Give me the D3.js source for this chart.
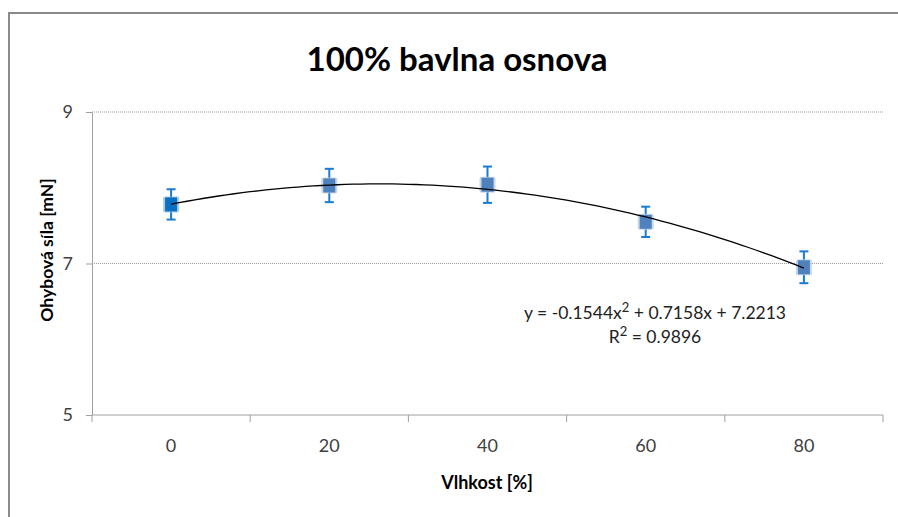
<!DOCTYPE html>
<html>
<head>
<meta charset="utf-8">
<script src="https://cdn.jsdelivr.net/npm/d3@7"></script>
<style>
  html, body { margin: 0; padding: 0; background: #fff; }
  svg { display: block; }
  text { font-family: Lato, "Open Sans", sans-serif; }
</style>
</head>
<body>
<svg id="chart" width="898" height="517"></svg>
<script>
// Humidity levels (category axis) and measured bending force
const categories = ["0", "20", "40", "60", "80"];
const forceMean = [7.78, 8.03, 8.04, 7.55, 6.95];
const forceErr = [0.20, 0.22, 0.24, 0.20, 0.21];
const yTicks = [5, 7, 9];

// Polynomial trendline (order 2), x = category index 1..5
const trendCoef = [-0.1544, 0.7158, 7.2213];
const rSquared = 0.9896;

const titleText = "100% bavlna osnova";
const xTitle = "Vlhkost [%]";
const yTitle = "Ohybová síla [mN]";

const svg = d3.select("#chart");
const plot = { left: 92, right: 883, top: 112, bottom: 415 };

const x = d3.scaleBand().domain(categories).range([plot.left, plot.right]).padding(0);
const y = d3.scaleLinear().domain([5, 9]).range([plot.bottom, plot.top]);
const xIdx = d3.scaleLinear()
  .domain([1, categories.length])
  .range([x(categories[0]) + x.bandwidth() / 2, x(categories[categories.length - 1]) + x.bandwidth() / 2]);

// Outer chart frame
svg.append("path")
  .attr("d", "M9,517 L9,13 L898,13")
  .attr("fill", "none").attr("stroke", "#8a8a8a").attr("stroke-width", 2);

// Title
svg.append("text")
  .attr("x", 457).attr("y", 71)
  .attr("text-anchor", "middle")
  .attr("font-size", 33).attr("font-weight", 700).attr("fill", "#000")
  .text(titleText);

// Horizontal gridlines (dotted)
svg.append("g").selectAll("line")
  .data(yTicks.filter(d => d !== 5))
  .join("line")
  .attr("x1", plot.left).attr("x2", plot.right)
  .attr("y1", d => y(d)).attr("y2", d => y(d))
  .attr("stroke", "#9a9a9a").attr("stroke-width", 1)
  .attr("stroke-dasharray", "1,1");

// Y axis
const yAxis = svg.append("g")
  .attr("transform", `translate(${plot.left},0)`)
  .call(d3.axisLeft(y).tickValues(yTicks).tickFormat(d3.format("d"))
    .tickSize(6).tickSizeOuter(0).tickPadding(13));
yAxis.select(".domain").attr("stroke", "#a0a0a0");
yAxis.selectAll(".tick line").attr("stroke", "#a0a0a0");
yAxis.selectAll(".tick text")
  .attr("font-family", "Lato, sans-serif").attr("font-size", 18).attr("fill", "#404040");

// X axis: ticks sit on the category boundaries
const xAxisG = svg.append("g").attr("transform", `translate(0,${plot.bottom})`);
xAxisG.append("line")
  .attr("x1", plot.left).attr("x2", plot.right)
  .attr("stroke", "#a0a0a0").attr("stroke-width", 1);
const bounds = categories.map(c => x(c)).concat([x(categories[categories.length - 1]) + x.bandwidth()]);
xAxisG.selectAll("line.tk").data(bounds).join("line")
  .attr("class", "tk")
  .attr("x1", d => d).attr("x2", d => d)
  .attr("y1", 0).attr("y2", 7)
  .attr("stroke", "#a0a0a0");
xAxisG.selectAll("text").data(categories).join("text")
  .attr("x", d => x(d) + x.bandwidth() / 2)
  .attr("y", 37)
  .attr("text-anchor", "middle")
  .attr("font-size", 18).attr("fill", "#404040")
  .text(d => d);

// Axis titles
svg.append("text")
  .attr("x", 487).attr("y", 489)
  .attr("text-anchor", "middle")
  .attr("font-size", 18).attr("font-weight", 700).attr("fill", "#000")
  .text(xTitle);
svg.append("text")
  .attr("transform", `translate(53,250) rotate(-90)`)
  .attr("text-anchor", "middle")
  .attr("font-size", 17.5).attr("font-weight", 700).attr("fill", "#000")
  .text(yTitle);

// Error bars
const eb = svg.append("g").attr("stroke", "#1a7cd0").attr("stroke-width", 2);
forceMean.forEach((v, i) => {
  const cx = x(categories[i]) + x.bandwidth() / 2;
  const yt = y(v + forceErr[i]), yb = y(v - forceErr[i]);
  eb.append("line").attr("x1", cx).attr("x2", cx).attr("y1", yt).attr("y2", yb);
  eb.append("line").attr("x1", cx - 4.5).attr("x2", cx + 4.5).attr("y1", yt).attr("y2", yt);
  eb.append("line").attr("x1", cx - 4.5).attr("x2", cx + 4.5).attr("y1", yb).attr("y2", yb);
});

// Markers (soft halo + square)
const mk = svg.append("g");
forceMean.forEach((v, i) => {
  const cx = x(categories[i]) + x.bandwidth() / 2;
  const cy = y(v);
  const fill = i === 0 ? "#0b6fc2" : "#4f81bd";
  mk.append("rect")
    .attr("x", cx - 8).attr("y", cy - 8).attr("width", 16).attr("height", 16)
    .attr("rx", 2).attr("fill", i === 0 ? "#8fbfe8" : "#b9cde6").attr("opacity", 0.8);
  mk.append("rect")
    .attr("x", cx - 6).attr("y", cy - 7).attr("width", 12).attr("height", 14)
    .attr("fill", fill);
});

// Trendline
const trendPts = d3.range(1, categories.length + 0.001, 0.05).map(t => [
  xIdx(t), y(trendCoef[0] * t * t + trendCoef[1] * t + trendCoef[2])
]);
svg.append("path")
  .attr("d", d3.line()(trendPts))
  .attr("fill", "none").attr("stroke", "#000").attr("stroke-width", 1.3);

// Trendline equation and coefficient of determination
const eq = svg.append("g").attr("font-size", 17.5).attr("fill", "#222").attr("text-anchor", "middle");
const l1 = eq.append("text").attr("x", 655).attr("y", 319);
l1.append("tspan").text(`y = ${trendCoef[0]}x`);
l1.append("tspan").attr("dy", -7).attr("font-size", 13).text("2");
l1.append("tspan").attr("dy", 7).text(` + ${trendCoef[1]}x + ${trendCoef[2]}`);
const l2 = eq.append("text").attr("x", 655).attr("y", 343);
l2.append("tspan").text("R");
l2.append("tspan").attr("dy", -7).attr("font-size", 13).text("2");
l2.append("tspan").attr("dy", 7).text(` = ${rSquared}`);
</script>
</body>
</html>
